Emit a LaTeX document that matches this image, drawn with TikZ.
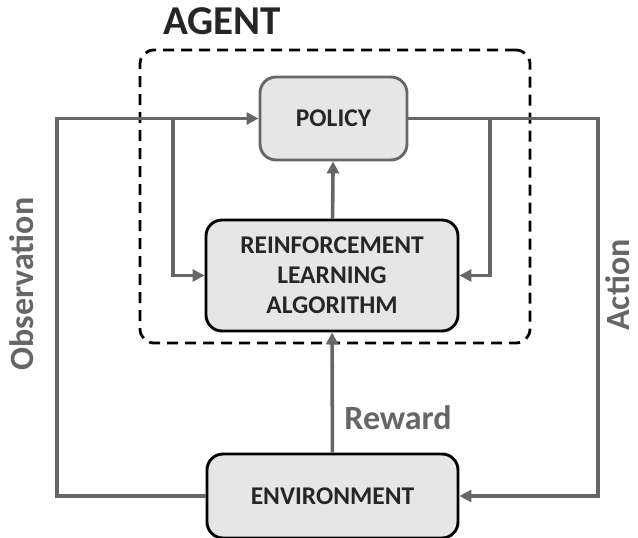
\documentclass[tikz,border=0pt]{standalone}
\usepackage{fontspec}
\setmainfont{Carlito}
\usetikzlibrary{positioning,arrows.meta}
\definecolor{linegray}{HTML}{666666}
\definecolor{boxfill}{HTML}{E6E6E6}
\tikzset{
  block/.style={draw=black, line width=2.9pt, fill=boxfill, rounded corners=16pt,
    align=center, text=black!85, font=\fontsize{25.5}{30}\selectfont\bfseries},
  flow/.style={draw=linegray, line width=3.6pt,
    -{Triangle[length=12pt,width=12pt]}},
  lbl/.style={text=linegray, font=\fontsize{34}{34}\selectfont\bfseries}
}

\begin{document}
\begin{tikzpicture}[x=1pt,y=-1pt]
  \useasboundingbox (0,0) rectangle (638,538);

  % agent frame and its title
  \node[draw, dashed, dash pattern=on 11pt off 7pt, line width=2.8pt,
    rounded corners=14pt, minimum width=390pt, minimum height=293pt]
    (agent) at (335,196.5) {};
  \node[text=black!85, font=\fontsize{41}{41}\selectfont\bfseries]
    (agentlabel) at (222,21) {AGENT};

  % boxes
  \node[block, draw=linegray, minimum width=147pt, minimum height=83pt]
    (policy) at (333.5,118.5) {POLICY};
  \node[block, minimum width=252pt, minimum height=111pt]
    (rl) at (332,275.5) {REINFORCEMENT\\LEARNING\\ALGORITHM};
  \node[block, minimum width=251pt, minimum height=84pt]
    (env) at (332.5,496) {ENVIRONMENT};

  % forks and corners of the loop
  \coordinate (obscorner) at (57,118.5);
  \coordinate (obsfork) at (173,118.5);
  \coordinate (actcorner) at (598,118.5);
  \coordinate (actfork) at (490,118.5);

  % observation
  \draw[flow] (env.west) -| (obscorner) -- (policy.west);
  \draw[flow] (obsfork) |- (rl.west);
  % action
  \draw[flow] (policy.east) -- (actcorner) |- (env.east);
  \draw[flow] (actfork) |- (rl.east);
  % update and reward
  \draw[flow] (rl) -- (policy);
  \draw[flow] (env) -- (rl);

  \node[lbl, rotate=90] (obslabel) at (22,284) {Observation};
  \node[lbl, rotate=90] (actlabel) at (618,285) {Action};
  \node[lbl] (rewardlabel) at (398,418) {Reward};
\end{tikzpicture}
\end{document}
